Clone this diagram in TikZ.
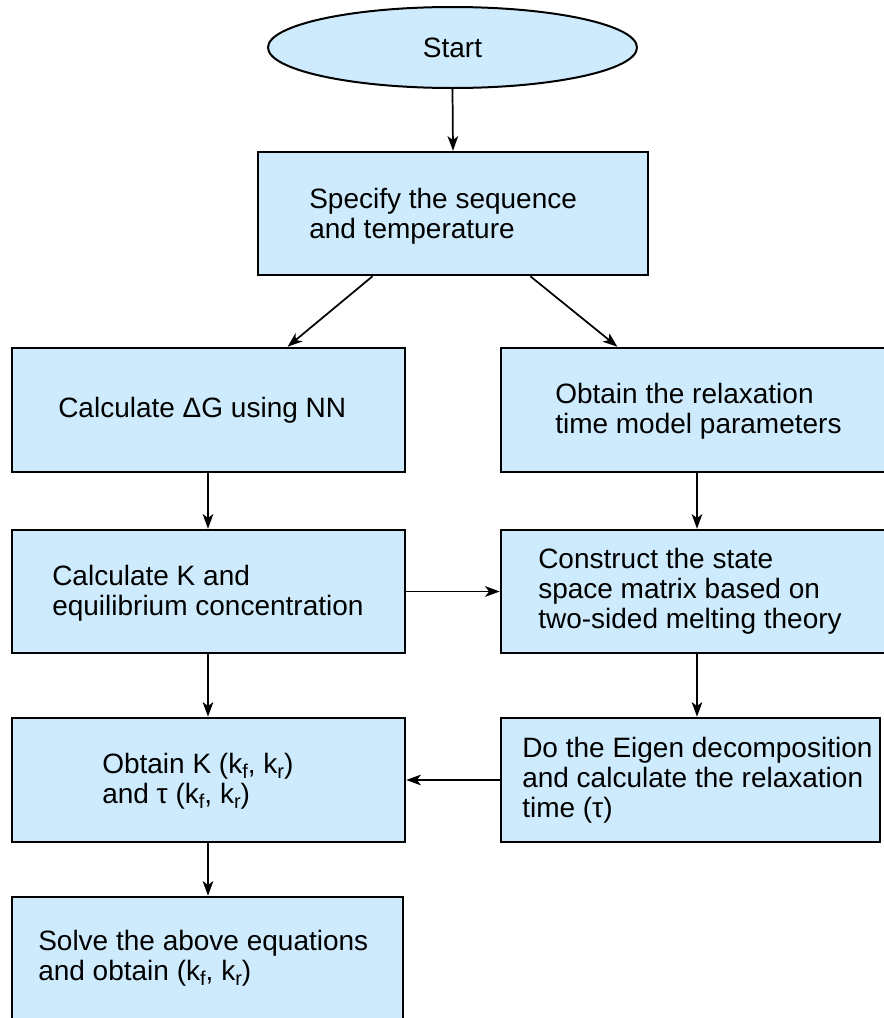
\documentclass[tikz,border=0pt]{standalone}
\usepackage{fontspec}
\setmainfont{Liberation Sans}
\usetikzlibrary{shapes.geometric,fit,arrows.meta,calc}
\definecolor{boxblue}{RGB}{205,235,252}
\newcommand{\ksub}[1]{\raisebox{-0.3ex}{\fontsize{15}{15}\selectfont #1}}
\begin{document}
\begin{tikzpicture}[x=0.75pt,y=-0.75pt,
  box/.style={draw=black, line width=1.9pt, fill=boxblue, inner sep=0pt},
  txt/.style={anchor=north west, inner sep=0pt, align=left, font=\fontsize{21}{22.5}\selectfont},
  arr/.style={line width=1.3pt, -{Stealth[length=11pt,width=8pt,inset=3pt]}}]
\useasboundingbox (0,0) rectangle (884,1018);
\fill[white] (0,0) rectangle (884,1018);
\clip (0,0) rectangle (884,1018);
% shapes
\node[box, line width=1.5pt, ellipse, minimum width=276.75pt, minimum height=60.75pt, font=\fontsize{21}{22.5}\selectfont] (start) at (452.5,47.5) {Start};
\node[box, fit={(258,152) (648,275)}] (b1) {};
\node[box, fit={(12,348) (405,472)}] (L2) {};
\node[box, fit={(501,348) (900,472)}] (R2) {};
\node[box, fit={(12,530) (405,653)}] (L3) {};
\node[box, fit={(501,530) (900,653)}] (R3) {};
\node[box, fit={(12,718) (405,842)}] (L4) {};
\node[box, fit={(501,718) (880,842)}] (R4) {};
\node[box, fit={(12,897) (403,1030)}] (L5) {};
% texts
\node[txt] (t1) at (309,188) {Specify the sequence\\and temperature};
\node[txt] (tL2) at (58,397) {Calculate ΔG using NN};
\node[txt] (tR2) at (555,383) {Obtain the relaxation\\time model parameters};
\node[txt] (tL3) at (52,565) {Calculate K and\\equilibrium concentration};
\node[txt] (tR3) at (538,548) {Construct the state\\space matrix based on\\two-sided melting theory};
\node[txt] (tL4) at (102,753) {Obtain K (k\ksub{f}, k\ksub{r})\\and τ (k\ksub{f}, k\ksub{r})};
\node[txt] (tR4) at (522,737) {Do the Eigen decomposition\\and calculate the relaxation\\time (τ)};
\node[txt] (tL5) at (38,930) {Solve the above equations\\and obtain (k\ksub{f}, k\ksub{r})};
% connectors
\coordinate (lc) at (208,0);
\coordinate (rc) at (697,0);
\draw[arr] (start.south) -- (b1.north);
\draw[arr] ($(b1.south west)!0.295!(b1.south east)$) -- ($(L2.north west)!0.70!(L2.north east)$);
\draw[arr] ($(b1.south west)!0.697!(b1.south east)$) -- ($(R2.north west)!0.293!(R2.north east)$);
\draw[arr] (L2.south -| lc) -- (L3.north -| lc);
\draw[arr] (R2.south -| rc) -- (R3.north -| rc);
\draw[arr] (L3.east) -- (R3.west);
\draw[arr] (L3.south -| lc) -- (L4.north -| lc);
\draw[arr] (R3.south -| rc) -- (R4.north -| rc);
\draw[arr] (R4.west) -- (L4.east);
\draw[arr] (L4.south -| lc) -- (L5.north -| lc);
\end{tikzpicture}
\end{document}
